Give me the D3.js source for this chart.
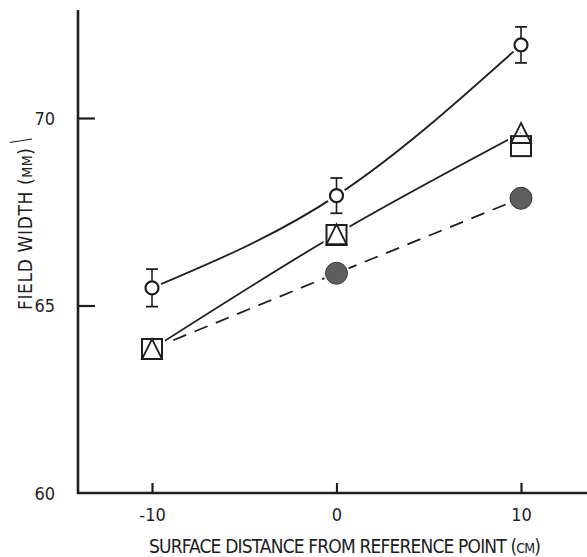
<!DOCTYPE html>
<html>
<head>
<meta charset="utf-8">
<script src="https://cdn.jsdelivr.net/npm/d3@7"></script>
<style>
  html, body { margin: 0; padding: 0; background: #ffffff; }
  svg { display: block; }
  text { font-family: "Liberation Sans Narrow", "DejaVu Sans Condensed", "Liberation Sans", sans-serif; fill: #1e1e1e; }
</style>
</head>
<body>
<svg id="chart" width="587" height="557"></svg>
<script>
(function() {
  // values
  var distances = [-10, 0, 10];
  var openCircles = [65.47, 67.93, 71.95];
  var openCircleErrors = [0.5, 0.47, 0.48];
  var squares = [63.84, 66.88, 69.25];
  var triangles = [63.84, 66.9, 69.6];
  var filledCircles = [63.84, 65.86, 67.86];
  var xTickValues = [-10, 0, 10];
  var yTickValues = [60, 65, 70];

  var width = 587;
  var height = 557;
  var ink = "#1e1e1e";

  var chart = d3.select("#chart");

  var x = d3.scaleLinear().domain([-10, 10]).range([152, 521]);
  var y = d3.scaleLinear().domain([60, 70]).range([493, 118]);

  var axisX0 = 78;
  var axisY0 = 493;

  var pts = function(values) {
    return distances.map(function(d, i) { return { x: d, v: values[i], e: 0 }; });
  };

  // plain hyphen for negatives, like the original lettering
  var plain = function(d) { return String(d); };

  // axes
  var yAxis = d3.axisLeft(y).tickValues(yTickValues).tickSizeInner(-17).tickSizeOuter(0).tickPadding(23).tickFormat(plain);
  var xAxis = d3.axisBottom(x).tickValues(xTickValues).tickSizeInner(-10).tickSizeOuter(0).tickPadding(15).tickFormat(plain);

  var gy = chart.append("g").attr("transform", "translate(" + axisX0 + ",0)").call(yAxis);
  var gx = chart.append("g").attr("transform", "translate(0," + axisY0 + ")").call(xAxis);

  [gx, gy].forEach(function(g) {
    g.select(".domain").remove();
    g.selectAll(".tick line").attr("stroke", ink).attr("stroke-width", 2.2);
    g.selectAll(".tick text").attr("font-size", 18).attr("fill", ink);
  });
  gy.selectAll(".tick text").attr("dy", "0.36em");
  gy.selectAll(".tick").filter(function(d) { return d === 60; }).select("line").remove();

  chart.append("line")
    .attr("x1", axisX0).attr("x2", axisX0)
    .attr("y1", 10).attr("y2", axisY0 + 1)
    .attr("stroke", ink).attr("stroke-width", 2.6);

  chart.append("line")
    .attr("x1", axisX0 - 1).attr("x2", width)
    .attr("y1", axisY0).attr("y2", axisY0)
    .attr("stroke", ink).attr("stroke-width", 2.6);

  // axis titles
  var xTitle = chart.append("text")
    .attr("x", 149).attr("y", 553)
    .attr("font-size", 19)
    .attr("textLength", 392)
    .attr("lengthAdjust", "spacing");
  xTitle.append("tspan").text("SURFACE DISTANCE FROM REFERENCE POINT (");
  xTitle.append("tspan").attr("font-size", 14).text("CM");
  xTitle.append("tspan").text(")");

  var yTitle = chart.append("text")
    .attr("transform", "translate(32,310) rotate(-90)")
    .attr("font-size", 19)
    .attr("textLength", 162)
    .attr("lengthAdjust", "spacing");
  yTitle.append("tspan").text("FIELD WIDTH  (");
  yTitle.append("tspan").attr("font-size", 14).text("MM");
  yTitle.append("tspan").text(")");

  chart.append("line")
    .attr("x1", 10).attr("y1", 142.5)
    .attr("x2", 32).attr("y2", 139)
    .attr("stroke", ink).attr("stroke-width", 1.2);

  // lines
  var line = d3.line()
    .x(function(d) { return x(d.x); })
    .y(function(d) { return y(d.v); });

  chart.append("path")
    .datum(pts(openCircles))
    .attr("fill", "none").attr("stroke", ink).attr("stroke-width", 1.8)
    .attr("d", line.curve(d3.curveMonotoneX));

  chart.append("path")
    .datum(pts(triangles))
    .attr("fill", "none").attr("stroke", ink).attr("stroke-width", 1.8)
    .attr("d", line.curve(d3.curveMonotoneX));

  chart.append("path")
    .datum(pts(filledCircles))
    .attr("fill", "none").attr("stroke", ink).attr("stroke-width", 1.8)
    .attr("stroke-dasharray", "14,9")
    .attr("d", line.curve(d3.curveLinear));

  // filled circles
  var gFilled = chart.append("g");
  gFilled.selectAll("circle.halo").data(pts(filledCircles)).enter().append("circle")
    .attr("class", "halo")
    .attr("cx", function(d) { return x(d.x); })
    .attr("cy", function(d) { return y(d.v); })
    .attr("r", 13).attr("fill", "#ffffff");
  gFilled.selectAll("circle.mark").data(pts(filledCircles)).enter().append("circle")
    .attr("class", "mark")
    .attr("cx", function(d) { return x(d.x); })
    .attr("cy", function(d) { return y(d.v); })
    .attr("r", 11).attr("fill", "#5e5e5e").attr("stroke", "#3a3a3a").attr("stroke-width", 1);

  // squares
  var sq = 20;
  var gSquares = chart.append("g");
  gSquares.selectAll("rect.halo").data(pts(squares)).enter().append("rect")
    .attr("class", "halo")
    .attr("x", function(d) { return x(d.x) - sq / 2 - 3; })
    .attr("y", function(d) { return y(d.v) - sq / 2 - 3; })
    .attr("width", sq + 6).attr("height", sq + 6)
    .attr("fill", "#ffffff");
  gSquares.selectAll("rect.mark").data(pts(squares)).enter().append("rect")
    .attr("class", "mark")
    .attr("x", function(d) { return x(d.x) - sq / 2; })
    .attr("y", function(d) { return y(d.v) - sq / 2; })
    .attr("width", sq).attr("height", sq)
    .attr("fill", "#ffffff").attr("stroke", ink).attr("stroke-width", 2);

  // triangles
  chart.append("g").selectAll("path").data(pts(triangles)).enter().append("path")
    .attr("transform", function(d) { return "translate(" + x(d.x) + "," + y(d.v) + ")"; })
    .attr("d", "M0,-" + (sq / 2) + "L" + (sq / 2) + "," + (sq / 2) + "L-" + (sq / 2) + "," + (sq / 2) + "Z")
    .attr("fill", "none").attr("stroke", ink).attr("stroke-width", 1.8)
    .attr("stroke-linejoin", "miter");

  // open circles with error bars
  var openPts = distances.map(function(d, i) { return { x: d, v: openCircles[i], e: openCircleErrors[i] }; });
  var gOpen = chart.append("g").selectAll("g").data(openPts).enter().append("g");
  gOpen.append("circle")
    .attr("cx", function(d) { return x(d.x); })
    .attr("cy", function(d) { return y(d.v); })
    .attr("r", 10).attr("fill", "#ffffff");
  gOpen.append("line")
    .attr("x1", function(d) { return x(d.x); })
    .attr("x2", function(d) { return x(d.x); })
    .attr("y1", function(d) { return y(d.v + d.e); })
    .attr("y2", function(d) { return y(d.v - d.e); })
    .attr("stroke", ink).attr("stroke-width", 1.6);
  [1, -1].forEach(function(s) {
    gOpen.append("line")
      .attr("x1", function(d) { return x(d.x) - 6; })
      .attr("x2", function(d) { return x(d.x) + 6; })
      .attr("y1", function(d) { return y(d.v + s * d.e); })
      .attr("y2", function(d) { return y(d.v + s * d.e); })
      .attr("stroke", ink).attr("stroke-width", 1.8);
  });
  gOpen.append("circle")
    .attr("cx", function(d) { return x(d.x); })
    .attr("cy", function(d) { return y(d.v); })
    .attr("r", 6.5).attr("fill", "#ffffff").attr("stroke", ink).attr("stroke-width", 2.2);
})();
</script>
</body>
</html>
